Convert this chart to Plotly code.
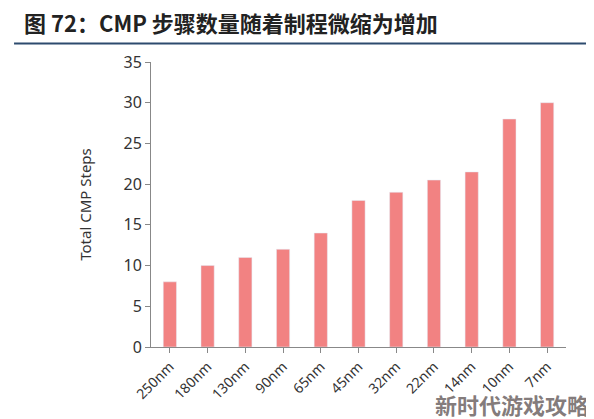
import plotly.graph_objects as go

categories = ["250nm","180nm","130nm","90nm","65nm","45nm","32nm","22nm","14nm","10nm","7nm"]
steps = [8, 10, 11, 12, 14, 18, 19, 20.5, 21.5, 28, 30]

fig = go.Figure(go.Bar(x=categories, y=steps, marker_color="#f28282", width=0.35))
fig.update_layout(
    width=594, height=419, paper_bgcolor="white", plot_bgcolor="white",
    margin=dict(l=143, r=36, t=54, b=80, autoexpand=False),
    font=dict(family="Noto Sans CJK SC", color="#333"),
    showlegend=False,
    xaxis=dict(tickangle=-45, showline=True, linecolor="#888", ticks="outside", tickcolor="#888",
               tickfont=dict(size=14, family="Noto Sans"), showgrid=False, automargin=False),
    yaxis=dict(range=[0,35], dtick=5, showline=True, linecolor="#888", ticks="outside", tickcolor="#888",
               showgrid=False, tickfont=dict(size=16, family="Noto Sans"), automargin=False,
               title=dict(text="Total CMP Steps", font=dict(size=15, family="Noto Sans"), standoff=28)),
    shapes=[dict(type="line", xref="paper", yref="paper", x0=-0.33, x1=1.08, y0=1.065, y1=1.065,
                 line=dict(color="#2d4b6e", width=2))],
    annotations=[
        dict(text="<b>图 72：CMP 步骤数量随着制程微缩为增加</b>", xref="paper", yref="paper",
             x=-0.31, y=1.14, xanchor="left", yanchor="middle", showarrow=False,
             font=dict(size=22, color="#222")),
        dict(text="<b>新时代游戏攻略</b>", xref="paper", yref="paper", x=1.06, y=-0.2,
             xanchor="right", yanchor="middle", showarrow=False,
             font=dict(size=22, color="rgba(110,100,100,0.85)")),
    ],
)
fig.write_html("out.html")
